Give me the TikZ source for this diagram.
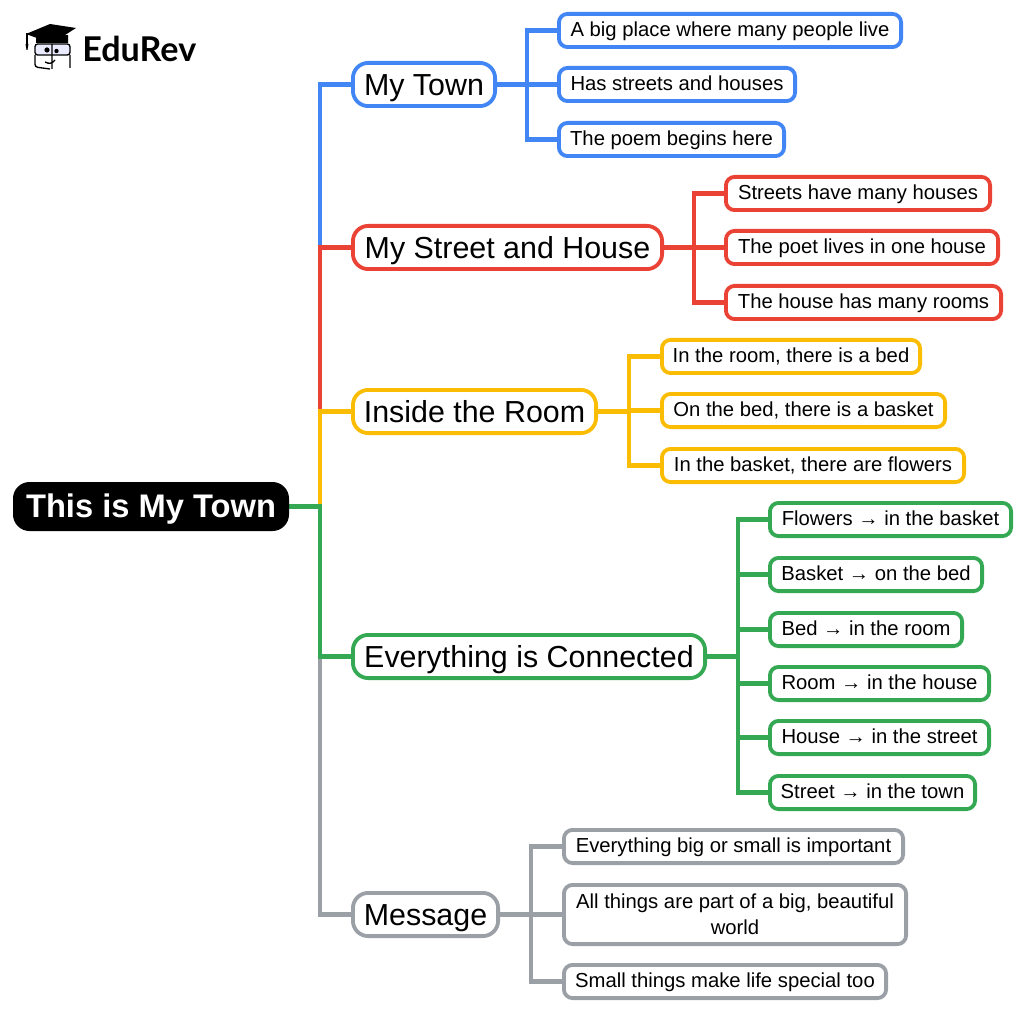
\documentclass[tikz,border=0pt]{standalone}
\usepackage{fontspec}
\setmainfont{Liberation Sans}
\newfontfamily\logofont{Lato}
\usetikzlibrary{backgrounds}
\definecolor{cblue}{HTML}{4285F4}
\definecolor{cred}{HTML}{EA4335}
\definecolor{cyel}{HTML}{FBBC04}
\definecolor{cgreen}{HTML}{34A853}
\definecolor{cgray}{HTML}{9AA0A6}
\tikzset{
  base/.style={rectangle,draw,line width=2.85pt,fill=white,inner sep=0pt,outer sep=0pt,text=black,align=center},
  kid/.style={base,draw=#1,rounded corners=6.5pt,text height=12pt,text depth=2.4pt,font=\fontsize{15.2}{19.5}\selectfont},
  mainn/.style={base,draw=#1,rounded corners=11.5pt,text height=19pt,text depth=2.2pt,font=\fontsize{22.8}{26}\selectfont},
  rootn/.style={rectangle,fill=black,draw=black,line width=2.85pt,inner sep=0pt,outer sep=0pt,rounded corners=11pt,text=white,text height=19pt,text depth=3pt,font=\fontsize{24.5}{28}\selectfont\bfseries},
  wire/.style={line width=3.4pt},
  multi/.style={text height={},text depth={}},
}
% name, style, x1, x2, y1, y2 (outer pixel box), text
\newcommand{\nd}[7]{\node[#2,minimum width={(#4-#3-3.8)*0.75pt},minimum height={(#6-#5-3.8)*0.75pt}] (#1) at ({(#3+#4)/2},{(#5+#6)/2}) {#7};}
\begin{document}
\begin{tikzpicture}[x=0.75pt,y=-0.75pt]
\useasboundingbox (0,0) rectangle (1024,1012);
% logo
\fill[black] (26,34) -- (50,24) -- (76,28) -- (62,37) -- (45,41) -- cycle;
\fill[black] (36,37) -- (68,35) -- (68,43) -- (36,43) -- cycle;
\draw[black,line width=0.8pt] (27,33) -- (27,46);
\fill[black] (25.5,44) -- (28.5,44) -- (27.5,50) -- (26.5,50) -- cycle;
\draw[black,line width=1pt,fill=blue!8,rounded corners=2pt] (35,44) rectangle (70,55);
\draw[black,line width=1pt,rounded corners=2pt] (35,55) -- (35,67) -- (50,69) (70,55) -- (70,68);
\draw[black,line width=1pt] (52,44) -- (52,69) (45,62) .. controls (49,64) and (52,64) .. (55,60);
\fill[black] (47,50) circle (2.6) (56.5,51) circle (2.2);
\node[anchor=base west,inner sep=0pt,font=\logofont\bfseries\fontsize{25.6}{28}\selectfont] (logo) at (82,62) {EduRev};
% nodes
\nd{root}{rootn}{13}{289}{482}{531}{This is My Town}
\nd{a}{mainn=cblue}{351}{497}{61}{108}{My Town}
\nd{a1}{kid=cblue}{557}{903}{12}{49}{A big place where many people live}
\nd{a2}{kid=cblue}{557}{797}{66}{103}{Has streets and houses}
\nd{a3}{kid=cblue}{557}{786}{121}{158}{The poem begins here}
\nd{b}{mainn=cred}{351}{664}{224}{271}{My Street and House}
\nd{b1}{kid=cred}{724}{992}{175}{212}{Streets have many houses}
\nd{b2}{kid=cred}{724}{1000}{229}{266}{The poet lives in one house}
\nd{b3}{kid=cred}{724}{1003}{284}{321}{The house has many rooms}
\nd{c}{mainn=cyel}{351}{598}{388}{435}{Inside the Room}
\nd{c1}{kid=cyel}{660}{922}{338}{375}{In the room, there is a bed}
\nd{c2}{kid=cyel}{660}{947}{392}{429}{On the bed, there is a basket}
\nd{c3}{kid=cyel}{660}{966}{447}{484}{In the basket, there are flowers}
\nd{d}{mainn=cgreen}{351}{707}{633}{680}{Everything is Connected}
\nd{d1}{kid=cgreen}{768}{1013}{501}{538}{Flowers → in the basket}
\nd{d2}{kid=cgreen}{768}{984}{556}{593}{Basket → on the bed}
\nd{d3}{kid=cgreen}{768}{964}{611}{648}{Bed → in the room}
\nd{d4}{kid=cgreen}{768}{991}{665}{702}{Room → in the house}
\nd{d5}{kid=cgreen}{768}{991}{719}{756}{House → in the street}
\nd{d6}{kid=cgreen}{768}{977}{774}{811}{Street → in the town}
\nd{e}{mainn=cgray}{351}{500}{891}{938}{Message}
\nd{e1}{kid=cgray}{562}{905}{828}{865}{Everything big or small is important}
\nd{e2}{kid=cgray,multi}{562}{908}{883}{946}{All things are part of a big, beautiful\\world}
\nd{e3}{kid=cgray}{562}{888}{963}{1000}{Small things make life special too}
\coordinate (trunk) at (320,0);
\coordinate (sa) at (527,0);
\coordinate (sb) at (694,0);
\coordinate (sc) at (629,0);
\coordinate (sd) at (738,0);
\coordinate (se) at (531,0);
\begin{scope}[on background layer]
\foreach \n/\c in {a/cblue,b/cred,c/cyel,e/cgray,d/cgreen}
  \draw[wire,\c] (root.east) -- (root.east -| trunk) |- (\n.west);
\foreach \n in {1,2,3} {
  \draw[wire,cblue] (a.east) -- (a.east -| sa) |- (a\n.west);
  \draw[wire,cred] (b.east) -- (b.east -| sb) |- (b\n.west);
  \draw[wire,cyel] (c.east) -- (c.east -| sc) |- (c\n.west);
  \draw[wire,cgray] (e.east) -- (e.east -| se) |- (e\n.west);
}
\foreach \n in {1,...,6}
  \draw[wire,cgreen] (d.east) -- (d.east -| sd) |- (d\n.west);
\end{scope}
\end{tikzpicture}
\end{document}
